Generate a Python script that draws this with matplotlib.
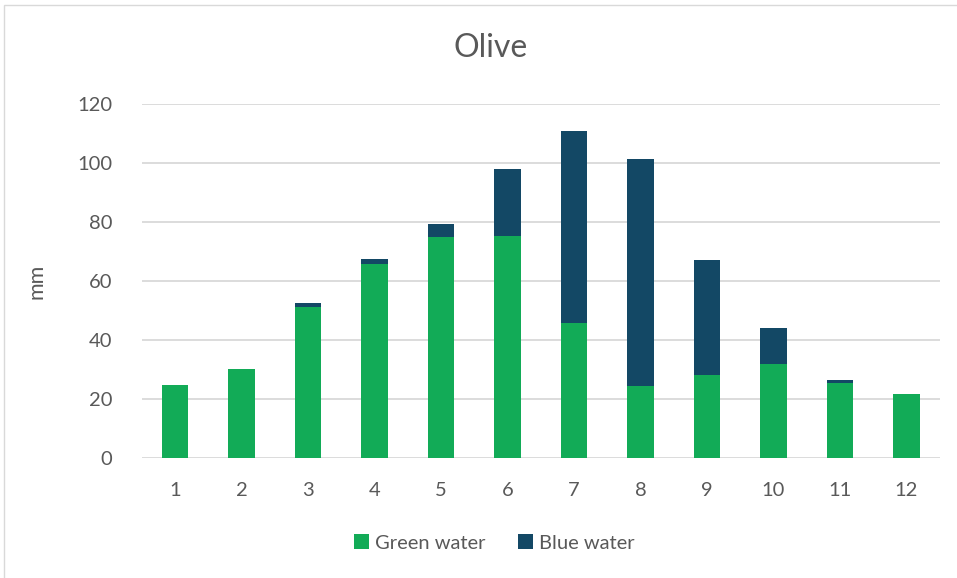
import matplotlib.pyplot as plt
from matplotlib.patches import Rectangle

months = [1, 2, 3, 4, 5, 6, 7, 8, 9, 10, 11, 12]
green_water = [24.7, 30.3, 51.1, 65.8, 74.9, 75.2, 45.6, 24.3, 28.1, 32.0, 25.3, 21.6]
blue_water = [0.0, 0.0, 1.3, 1.5, 4.4, 22.7, 65.1, 77.2, 38.9, 12.2, 1.1, 0.0]

green_col = '#12ab57'
blue_col = '#134865'
text_col = '#595959'

plt.rcParams['font.family'] = ['Lato', 'DejaVu Sans']

fig = plt.figure(figsize=(9.57, 5.78), dpi=100)
ax = fig.add_axes([0.148, 0.2076, 0.834, 0.6124])

x = list(range(len(months)))
ax.bar(x, green_water, width=0.4, color=green_col, label='Green water', zorder=3)
ax.bar(x, blue_water, width=0.4, bottom=green_water, color=blue_col,
       label='Blue water', zorder=3)

ax.set_ylim(0, 120)
ax.set_xlim(-0.5, len(months) - 0.5)
ax.set_yticks(range(0, 121, 20))
ax.set_xticks(x)
ax.set_xticklabels([str(m) for m in months])
ax.yaxis.grid(True, color='#d9d9d9', linewidth=1.3, zorder=0)
for s in ax.spines.values():
    s.set_visible(False)
ax.tick_params(length=0, labelsize=14.5, colors=text_col)
ax.tick_params(axis='x', pad=17)
ax.tick_params(axis='y', pad=21)
ax.set_ylabel('mm', fontsize=15.5, color=text_col, labelpad=22)
fig.text(491 / 957, 1 - 48 / 578, 'Olive', fontsize=23, color=text_col,
         ha='center', va='center')

fig.legend(*ax.get_legend_handles_labels(), loc='center',
           bbox_to_anchor=(494 / 957, 1 - 543 / 578), ncol=2, frameon=False,
           fontsize=14.5, labelcolor=text_col, handlelength=0.75, handleheight=0.75,
           handletextpad=0.3, columnspacing=1.6)

# light frame around the chart
fig.patches.append(Rectangle((4 / 957, -0.05), 1.1, 1 - 5 / 578 + 0.05,
                             transform=fig.transFigure, fill=False,
                             edgecolor='#d9d9d9', linewidth=1))

fig.savefig('out.png', dpi=100)
